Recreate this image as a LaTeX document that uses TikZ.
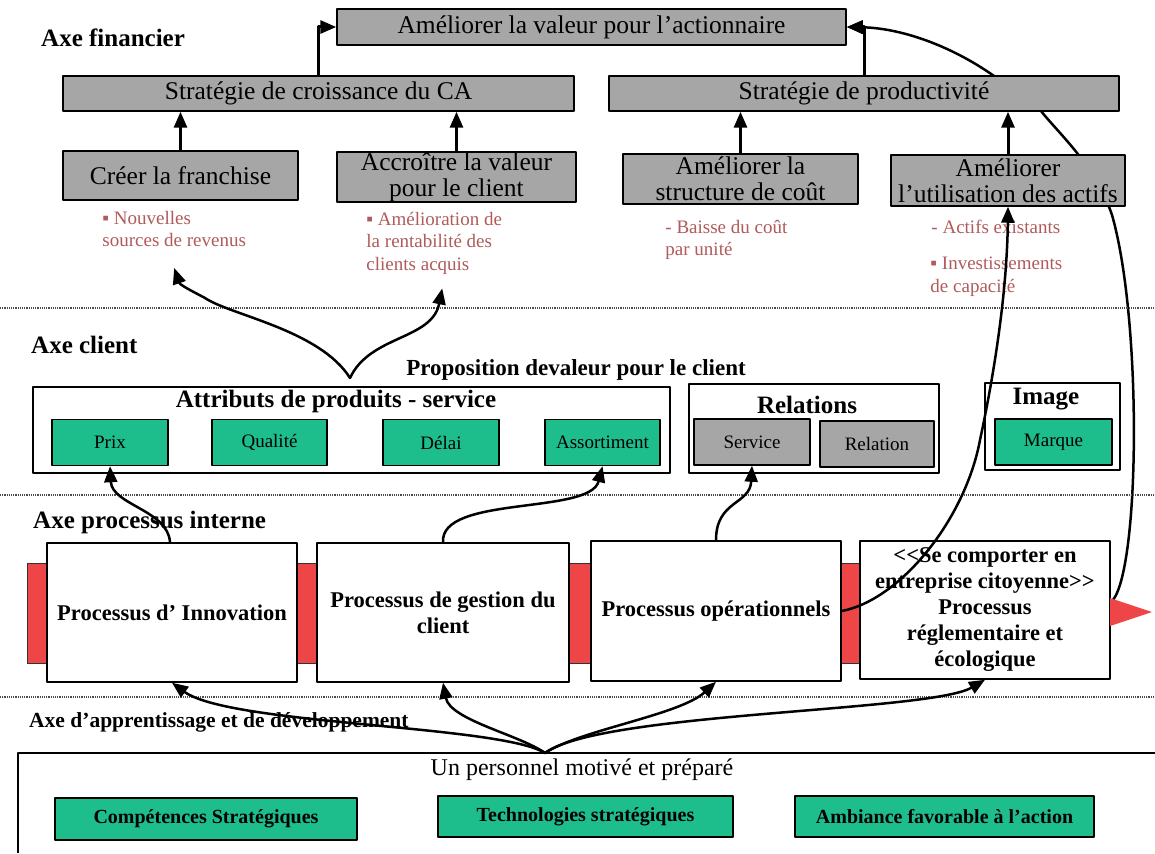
\documentclass[tikz,border=0pt]{standalone}
\usepackage{fontspec}
\setmainfont{Liberation Serif}
\usetikzlibrary{arrows.meta,positioning,calc,backgrounds}
\definecolor{grisboite}{RGB}{166,166,166}
\definecolor{vertboite}{RGB}{30,190,140}
\definecolor{rougebande}{RGB}{238,70,70}
\definecolor{rosenote}{RGB}{176,90,90}
\tikzset{
  %Define standard arrow tip
  >={Triangle[length=16pt,width=13pt]},
  %Define style for boxes
  boite/.style={
    rectangle,
    draw=black, line width=1.5pt,
    fill=grisboite,
    inner sep=0pt,
    align=center,
    font=\fontsize{25.5}{26}\selectfont},
  attribut/.style={
    rectangle,
    draw=black, line width=1.5pt,
    fill=vertboite,
    inner sep=0pt,
    minimum height=46pt,
    font=\fontsize{19}{21}\selectfont},
  cadre/.style={
    rectangle,
    draw=black, line width=1.5pt,
    fill=white,
    inner sep=0pt},
  processus/.style={
    cadre,
    minimum width=250pt,
    align=center,
    font=\bfseries\fontsize{22.5}{26}\selectfont},
  remarque/.style={
    inner sep=0pt,
    align=left,
    text=rosenote,
    font=\fontsize{19}{22.5}\selectfont},
  axe/.style={anchor=west, inner sep=0pt, font=\bfseries\fontsize{25}{27}\selectfont},
  titre/.style={inner sep=0pt, font=\bfseries\fontsize{25}{27}\selectfont},
  separation/.style={densely dotted, line width=1.2pt, black!70},
  % Define arrow style
  fleche/.style={
    ->,
    line width=3pt},
  courbe/.style={
    ->,
    line width=2.5pt,
    line cap=round}
}
\begin{document}
\begin{tikzpicture}[x=1pt,y=-1pt,line join=round]
  \useasboundingbox (0,0) rectangle (1155,853);
  % separations entre les axes
  \foreach \ligne in {308,495,697}
    \draw[separation] (0,\ligne) -- (1155,\ligne);
  \node[axe] (axefin) at (41,38) {Axe financier};
  \node[axe] (axecli) at (31,345) {Axe client};
  \node[axe] (axeproc) at (33,522) {Axe processus interne};
  \node[axe, font=\bfseries\fontsize{21.5}{24}\selectfont] (axeapp) at (29,722) {Axe d'apprentissage et de développement};

  % axe financier
  \node[boite, minimum width=509pt, minimum height=36pt] (valeur) at (591.5,27) {Améliorer la valeur pour l'actionnaire};
  \node[boite, minimum width=511pt, minimum height=35pt] (croissance) at (318.5,93.5) {Stratégie de croissance du CA};
  \node[boite, minimum width=510pt, minimum height=35pt] (productivite) at (864,93.5) {Stratégie de productivité};
  \node[boite, minimum width=235pt, minimum height=49pt] (franchise) at (180.5,175.5) {Créer la franchise};
  \node[boite, minimum width=239pt, minimum height=50pt] (accroitre) at (456.5,177) {Accroître la valeur\\pour le client};
  \node[boite, minimum width=235pt, minimum height=50pt] (structure) at (740.5,179) {Améliorer la\\structure de coût};
  \node[boite, minimum width=234pt, minimum height=51pt] (actifs) at (1008,180.5) {Améliorer\\l'utilisation des actifs};
  \node[remarque, below right=10pt and 40pt of franchise.south west] (revenus) {▪ Nouvelles\\sources de revenus};
  \node[remarque, below right=9pt and 30pt of accroitre.south west] (rentabilite) {▪ Amélioration de\\la rentabilité des\\clients acquis};
  \node[remarque, below right=15pt and 43pt of structure.south west] (baisse) {- Baisse du coût\\par unité};
  \node[remarque, below right=13pt and 41pt of actifs.south west] (existants) {- Actifs existants};
  \node[remarque, below right=50pt and 40pt of actifs.south west] (capacite) {▪ Investissements\\de capacité};

  % axe client
  \node[titre, font=\bfseries\fontsize{23}{25}\selectfont] (proposition) at (576,370) {Proposition devaleur pour le client};
  \node[cadre, minimum width=637pt, minimum height=86pt] (attributs) at (351.5,430) {};
  \node[titre] (tattributs) at (336,401) {Attributs de produits - service};
  \node[attribut, minimum width=116pt] (prix) at (110,442.5) {Prix};
  \node[attribut, minimum width=115pt] (qualite) at (269.5,442.5) {Qualité};
  \node[attribut, minimum width=116pt] (delai) at (441,442.5) {Délai};
  \node[attribut, minimum width=115pt] (assortiment) at (602.5,442.5) {Assortiment};
  \node[cadre, minimum width=250pt, minimum height=89pt] (relations) at (814,428.5) {};
  \node[titre] (trelations) at (807,405) {Relations};
  \node[boite, font=\fontsize{19}{21}\selectfont, minimum width=116pt, minimum height=46pt] (service) at (752,442) {Service};
  \node[boite, font=\fontsize{19}{21}\selectfont, minimum width=114pt, minimum height=46pt] (relation) at (877,444) {Relation};
  \node[cadre, minimum width=135pt, minimum height=87pt] (image) at (1052.5,426.5) {};
  \node[titre] (timage) at (1046,399) {Image};
  \node[attribut, minimum width=117pt] (marque) at (1053.5,442) {Marque};

  % axe processus interne
  \begin{pgfonlayer}{background}
    \fill[rougebande, draw=black!80, line width=1pt] (27,563) rectangle (1110,663);
  \end{pgfonlayer}
  \node[processus, minimum height=139pt] (innovation) at (172,612.5) {Processus d' Innovation};
  \node[processus, minimum width=252pt, minimum height=139pt] (gestion) at (443,612.5) {Processus de gestion du\\client};
  \node[processus, minimum height=140pt] (operationnels) at (716,611) {Processus opérationnels};
  \node[processus, minimum height=138pt] (reglementaire) at (985,610) {<\kern0pt<Se comporter en\\entreprise citoyenne>\kern0pt>\\Processus\\réglementaire et\\écologique};
  \fill[rougebande] (1110,598) -- (1152,612) -- (1110,626) -- cycle;
  \coordinate (pointe) at (1113,600);

  % axe d'apprentissage
  \draw[line width=1.5pt] (1155,753) -| (18,853);
  \coordinate (eventail) at (545,753);
  \node[inner sep=0pt, font=\fontsize{24}{26}\selectfont] (personnel) at (582,770) {Un personnel motivé et préparé};
  \node[attribut, font=\bfseries\fontsize{20}{22}\selectfont, minimum width=302pt, minimum height=42pt] (competences) at (206,819) {Compétences Stratégiques};
  \node[attribut, font=\bfseries\fontsize{20}{22}\selectfont, minimum width=295pt, minimum height=41pt] (technologies) at (585.5,816.5) {Technologies stratégiques};
  \node[attribut, font=\bfseries\fontsize{20}{22}\selectfont, minimum width=299pt, minimum height=41pt] (ambiance) at (944.5,816.5) {Ambiance favorable à l'action};

  % liens
  \draw[fleche] (croissance) |- (valeur);
  \draw[fleche] (productivite) |- (valeur);
  \draw[fleche] (franchise) -- (franchise |- croissance.south);
  \draw[fleche] (accroitre) -- (accroitre |- croissance.south);
  \draw[fleche] (structure) -- (structure |- productivite.south);
  \draw[fleche] (actifs) -- (actifs |- productivite.south);
  \begin{pgfonlayer}{background}
    \draw[courbe] (pointe) .. controls (1140,565) and (1142,320) .. (1112,215)
      .. controls (1095,165) and (1060,135) .. (1041,111)
      .. controls (1025,95) and (1010,83) .. (994,76)
      .. controls (950,45) and (900,28) .. (valeur.east);
  \end{pgfonlayer}
  \coordinate (vclient) at (350,378);
  \draw[courbe] (vclient) .. controls (320,330) and (230,315) .. (205,298)
    .. controls (190,290) and (180,285) .. ([yshift=-21pt]revenus.south);
  \draw[courbe] (vclient) .. controls (370,335) and (432,340) .. ([xshift=8pt,yshift=-14pt]rentabilite.south);
  \draw[courbe] (innovation.north -| 170,0) .. controls (168,510) and (112,505) .. (prix.south);
  \draw[courbe] (gestion.north) .. controls (440,495) and (590,515) .. (assortiment.south);
  \draw[courbe] (operationnels.north) .. controls (716,500) and (750,505) .. (service.south);
  \draw[courbe] (operationnels.east) .. controls (900,600) and (965,520) .. (980,440)
    .. controls (995,370) and (1007,290) .. (actifs.south);
  \draw[courbe] (eventail) .. controls (500,725) and (230,725) .. (innovation.south);
  \draw[courbe] (eventail) .. controls (520,735) and (450,720) .. (gestion.south);
  \draw[courbe] (eventail) .. controls (580,730) and (680,715) .. (operationnels.south);
  \draw[courbe] (eventail) .. controls (600,712) and (930,712) .. (reglementaire.south);
\end{tikzpicture}
\end{document}
